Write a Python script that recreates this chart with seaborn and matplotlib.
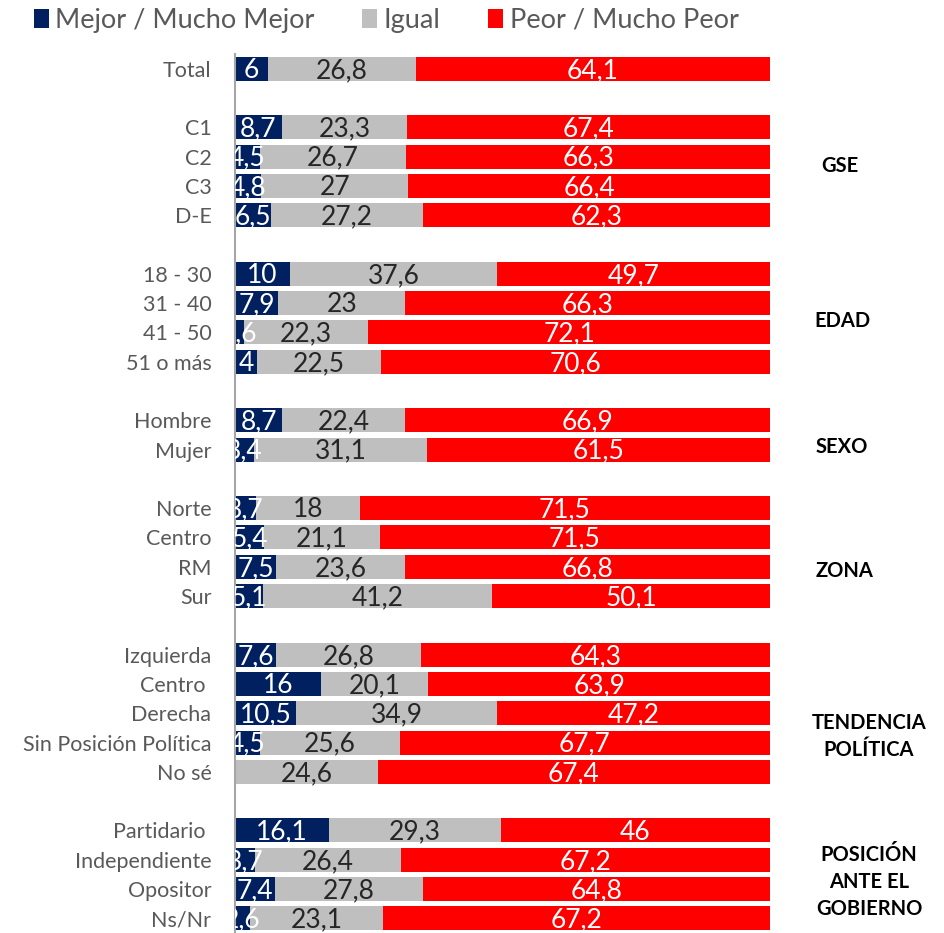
import matplotlib
matplotlib.use("Agg")
import matplotlib.pyplot as plt
import seaborn as sns
import pandas as pd
import numpy as np
from matplotlib.patches import Patch

categories = ["Total", "C1", "C2", "C3", "D-E", "18 - 30", "31 - 40", "41 - 50", "51 o más",
              "Hombre", "Mujer", "Norte", "Centro", "RM", "Sur",
              "Izquierda", "Centro ", "Derecha", "Sin Posición Política", "No sé",
              "Partidario ", "Independiente", "Opositor", "Ns/Nr"]
mejor = [6, 8.7, 4.5, 4.8, 6.5, 10, 7.9, 1.6, 4, 8.7, 3.4, 3.7, 5.4, 7.5, 5.1,
         7.6, 16, 10.5, 4.5, 0, 16.1, 3.7, 7.4, 2.6]
igual = [26.8, 23.3, 26.7, 27, 27.2, 37.6, 23, 22.3, 22.5, 22.4, 31.1, 18, 21.1, 23.6, 41.2,
         26.8, 20.1, 34.9, 25.6, 24.6, 29.3, 26.4, 27.8, 23.1]
peor = [64.1, 67.4, 66.3, 66.4, 62.3, 49.7, 66.3, 72.1, 70.6, 66.9, 61.5, 71.5, 71.5, 66.8, 50.1,
        64.3, 63.9, 47.2, 67.7, 67.4, 46, 67.2, 64.8, 67.2]
series_names = ["Mejor / Mucho Mejor", "Igual", "Peor / Mucho Peor"]
groups = ["GSE", "EDAD", "SEXO", "ZONA", "TENDENCIA\nPOLÍTICA", "POSICIÓN\nANTE EL\nGOBIERNO"]

# row order with blank spacer rows
order = ["Total", " ", "C1", "C2", "C3", "D-E", "  ", "18 - 30", "31 - 40", "41 - 50", "51 o más",
         "   ", "Hombre", "Mujer", "    ", "Norte", "Centro", "RM", "Sur", "     ",
         "Izquierda", "Centro ", "Derecha", "Sin Posición Política", "No sé", "      ",
         "Partidario ", "Independiente", "Opositor", "Ns/Nr"]

df = pd.DataFrame({"cat": categories, "m": mejor, "i": igual, "p": peor})
tot = df["m"] + df["i"] + df["p"]
df["mn"] = df["m"] / tot * 100
df["in"] = df["i"] / tot * 100
df["pn"] = df["p"] / tot * 100
df["c1"] = df["mn"]
df["c2"] = df["mn"] + df["in"]
df["c3"] = df["mn"] + df["in"] + df["pn"]

NAVY = "#002060"
GRAY = "#BFBFBF"
RED = "#FF0000"

sns.set_style("white")
plt.rcParams["font.family"] = ["Lato", "DejaVu Sans"]

fig = plt.figure(figsize=(9.45, 9.33), dpi=100)
ax = fig.add_axes([235 / 945, 0.0, (770 - 235) / 945, 1 - 54 / 933])

bh = 0.82
sns.barplot(data=df, y="cat", x="c3", order=order, color=RED, width=bh, ax=ax,
            saturation=1, orient="h", linewidth=0)
sns.barplot(data=df, y="cat", x="c2", order=order, color=GRAY, width=bh, ax=ax,
            saturation=1, orient="h", linewidth=0)
sns.barplot(data=df, y="cat", x="c1", order=order, color=NAVY, width=bh, ax=ax,
            saturation=1, orient="h", linewidth=0)

ax.set_xlim(0, 100)
ax.set_ylim(len(order) - 0.5, -0.5)
ax.set_xlabel("")
ax.set_ylabel("")
ax.set_xticks([])
for s in ["top", "right", "bottom"]:
    ax.spines[s].set_visible(False)
ax.spines["left"].set_color("#A6A6A6")
ax.spines["left"].set_linewidth(1.5)
ax.tick_params(axis="y", length=0, pad=17, labelsize=15.5, labelcolor="#595959")


def fmt(v):
    return f"{v:g}".replace(".", ",")


for _, r in df.iterrows():
    y = order.index(r["cat"])
    segs = [(r["m"], 0, r["c1"], "white"), (r["i"], r["c1"], r["c2"], "#262626"),
            (r["p"], r["c2"], r["c3"], "white")]
    for v, a, b, col in segs:
        if v <= 0:
            continue
        ax.text((a + b) / 2, y + 0.06, fmt(v), ha="center", va="center", color=col,
                fontsize=19, clip_on=True)

# group labels
gpos = [(1.13, 3.31), (1.135, 8.6), (1.135, 12.93), (1.14, 17.13), (1.185, 22.8), (1.185, 27.75)]
for g, (gx, gy) in zip(groups, gpos):
    ax.text(gx, gy, g, transform=ax.get_yaxis_transform(), ha="center", va="center",
            fontsize=14.5, fontweight="bold", color="black", linespacing=1.45, clip_on=False)

handles = [Patch(facecolor=c, edgecolor="none") for c in [NAVY, GRAY, RED]]
leg = fig.legend(handles, series_names, loc="upper left", bbox_to_anchor=(0.01, 1.018),
                 ncol=3, frameon=False, fontsize=19.5, handlelength=0.55, handleheight=0.7,
                 handletextpad=0.25, columnspacing=1.75)
for t in leg.get_texts():
    t.set_color("#595959")

fig.savefig("out.png", dpi=100)
